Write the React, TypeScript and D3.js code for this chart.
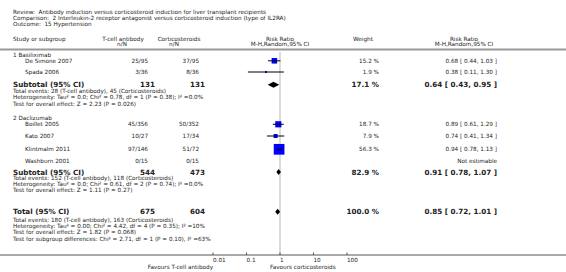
import React from "react";
import * as d3 from "d3";

const titleLines = [
  "Review:  Antibody induction versus corticosteroid induction for liver transplant recipients",
  "Comparison:  2 Interleukin-2 receptor antagonist versus corticosteroid induction (type of IL2RA)",
  "Outcome:  15 Hypertension",
];

const studyNames = ["De Simone 2007", "Spada 2006", "Boillet 2005", "Kato 2007", "Klintmalm 2011", "Washburn 2001"];
const studyGroup = [1, 1, 2, 2, 2, 2];
const tcellEvents = ["25/95", "3/36", "45/356", "10/27", "97/146", "0/15"];
const corticoEvents = ["37/95", "8/36", "50/352", "17/34", "51/72", "0/15"];
const weights = [15.2, 1.9, 18.7, 7.9, 56.3, null];
const rr = [0.68, 0.38, 0.89, 0.74, 0.94, null];
const lo = [0.44, 0.11, 0.61, 0.41, 0.78, null];
const hi = [1.03, 1.3, 1.29, 1.34, 1.13, null];

const groupNames = ["1 Basiliximab", "2 Daclizumab"];
const groupTcellN = ["131", "544"];
const groupCorticoN = ["131", "473"];
const groupWeight = [17.1, 82.9];
const groupRR = [0.64, 0.91];
const groupLo = [0.43, 0.78];
const groupHi = [0.95, 1.07];
const groupText = [
  [
    "Total events: 28 (T-cell antibody), 45 (Corticosteroids)",
    "Heterogeneity: Tau² = 0.0; Chi² = 0.78, df = 1 (P = 0.38); I² =0.0%",
    "Test for overall effect: Z = 2.23 (P = 0.026)",
  ],
  [
    "Total events: 152 (T-cell antibody), 118 (Corticosteroids)",
    "Heterogeneity: Tau² = 0.0; Chi² = 0.61, df = 2 (P = 0.74); I² =0.0%",
    "Test for overall effect: Z = 1.11 (P = 0.27)",
  ],
];

const totalTcellN = "675";
const totalCorticoN = "604";
const totalWeight = 100.0;
const totalRR = 0.85;
const totalLo = 0.72;
const totalHi = 1.01;
const totalText = [
  "Total events: 180 (T-cell antibody), 163 (Corticosteroids)",
  "Heterogeneity: Tau² = 0.00; Chi² = 4.42, df = 4 (P = 0.35); I² =10%",
  "Test for overall effect: Z = 1.82 (P = 0.068)",
  "Test for subgroup differences: Chi² = 2.71, df = 1 (P = 0.10), I² =63%",
];

const tickValues = [0.01, 0.1, 1, 10, 100];
const tickLabels = ["0.01", "0.1", "1", "10", "100"];
const favoursLeft = "Favours T-cell antibody";
const favoursRight = "Favours corticosteroids";

const FONT = "'DejaVu Sans', Verdana, sans-serif";
const SMALL = 5.7;
const BIG = 7.2;
const TXT = "#222";

const f2 = (v: number) => v.toFixed(2);
const ciText = (r: number, l: number, h: number) => `${f2(r)} [ ${f2(l)}, ${f2(h)} ]`;

export default function App() {
  const W = 566;
  const H = 272;
  const x = d3.scaleLog().domain([0.01, 100]).range([213, 347]);
  const sqSize = d3.scaleSqrt().domain([0, 56.3]).range([0, 10.7]);

  const xName1 = 13;
  const xName2 = 25;
  const xT = 148;
  const xC = 199;
  const xTb = 155;
  const xCb = 205;
  const xW = 379;
  const xRR = 497;

  // vertical layout
  const groupLabelY = [54.5, 117.7];
  const studyY = [60.8, 72, 124.3, 136, 149.3, 160.7];
  const subY = [84.8, 172];
  const subTextY = [
    [91, 97.3, 103.5],
    [178.3, 184.3, 190.2],
  ];
  const totY = 211.7;
  const totTextY = [219.6, 226, 232.3, 238.7];
  const axisY = 255;

  const t = (
    key: string,
    xx: number,
    yy: number,
    s: string,
    anchor: "start" | "middle" | "end" = "start",
    bold = false,
    size = SMALL
  ) => (
    <text
      key={key}
      x={xx}
      y={yy}
      dy="0.36em"
      textAnchor={anchor}
      fontFamily={FONT}
      fontSize={size}
      fontWeight={bold ? "bold" : "normal"}
      fill={TXT}
      style={{ whiteSpace: "pre" }}
    >
      {s}
    </text>
  );

  const diamond = (key: string, r: number, l: number, h: number, yy: number) => {
    const hh = 3;
    const p = `M${x(l)},${yy} L${x(r)},${yy - hh} L${x(h)},${yy} L${x(r)},${yy + hh} Z`;
    return <path key={key} d={p} fill="#000" />;
  };

  const els: React.ReactNode[] = [];
  titleLines.forEach((s, i) => els.push(t("title" + i, xName1, [11.6, 17.8, 24][i], s)));

  // header
  els.push(t("h1", xName1, 39, "Study or subgroup"));
  els.push(t("h2", 123, 38.5, "T-cell antibody", "middle"));
  els.push(t("h3", 122, 44, "n/N", "middle"));
  els.push(t("h4", 179, 38.5, "Corticosteroids", "middle"));
  els.push(t("h5", 174, 44, "n/N", "middle"));
  els.push(t("h6", 280, 38.5, "Risk Ratio", "middle"));
  els.push(t("h7", 280, 44, "M-H,Random,95% CI", "middle"));
  els.push(t("h8", 363, 38.5, "Weight", "middle"));
  els.push(t("h9", 464, 38.5, "Risk Ratio", "middle"));
  els.push(t("h10", 464, 44, "M-H,Random,95% CI", "middle"));

  // null line
  els.push(<line key="nullline" x1={x(1)} x2={x(1)} y1={52} y2={axisY} stroke="#dcdcdc" strokeWidth={2} />);
  els.push(<line key="hdrline" x1={0} x2={W} y1={49.5} y2={49.5} stroke="#999" strokeWidth={2} />);

  groupNames.forEach((g, gi) => {
    els.push(t("g" + gi, xName1, groupLabelY[gi], g));
    studyNames.forEach((s, i) => {
      if (studyGroup[i] !== gi + 1) return;
      const yy = studyY[i];
      els.push(t("sn" + i, xName2, yy, s));
      els.push(t("st" + i, xT, yy, tcellEvents[i], "end"));
      els.push(t("sc" + i, xC, yy, corticoEvents[i], "end"));
      const w = weights[i];
      const r = rr[i];
      const l = lo[i];
      const h = hi[i];
      if (w != null && r != null && l != null && h != null) {
        els.push(t("sw" + i, xW, yy, `${w.toFixed(1)} %`, "end"));
        els.push(t("sr" + i, xRR, yy, ciText(r, l, h), "end"));
        const sz = Math.max(sqSize(w), 1.5);
        els.push(
          <rect key={"sq" + i} x={x(r) - sz / 2} y={yy - sz / 2} width={sz} height={sz} fill="#0000ff" />
        );
        els.push(<line key={"ci" + i} x1={x(l)} x2={x(h)} y1={yy} y2={yy} stroke="#000" strokeWidth={1} />);
      } else {
        els.push(t("sr" + i, xRR, yy, "Not estimable", "end"));
      }
    });
    const sy = subY[gi];
    els.push(t("sub" + gi, xName1, sy, "Subtotal (95% CI)", "start", true, BIG));
    els.push(t("subt" + gi, xTb, sy, groupTcellN[gi], "end", true, BIG));
    els.push(t("subc" + gi, xCb, sy, groupCorticoN[gi], "end", true, BIG));
    els.push(t("subw" + gi, xW, sy, `${groupWeight[gi].toFixed(1)} %`, "end", true, BIG));
    els.push(t("subr" + gi, xRR, sy, ciText(groupRR[gi], groupLo[gi], groupHi[gi]), "end", true, BIG));
    els.push(diamond("subd" + gi, groupRR[gi], groupLo[gi], groupHi[gi], sy));
    groupText[gi].forEach((s, j) => els.push(t(`gt${gi}_${j}`, xName1, subTextY[gi][j], s)));
  });

  els.push(t("tot", xName1, totY, "Total (95% CI)", "start", true, BIG));
  els.push(t("tott", xTb, totY, totalTcellN, "end", true, BIG));
  els.push(t("totc", xCb, totY, totalCorticoN, "end", true, BIG));
  els.push(t("totw", xW, totY, `${totalWeight.toFixed(1)} %`, "end", true, BIG));
  els.push(t("totr", xRR, totY, ciText(totalRR, totalLo, totalHi), "end", true, BIG));
  els.push(diamond("totd", totalRR, totalLo, totalHi, totY));
  totalText.forEach((s, j) => els.push(t("tt" + j, xName1, totTextY[j], s)));

  // axis
  els.push(<line key="axis" x1={0} x2={W} y1={axisY} y2={axisY} stroke="#555" strokeWidth={1} />);
  tickValues.forEach((v, i) => {
    els.push(
      <line key={"tk" + i} x1={x(v)} x2={x(v)} y1={axisY - 2.5} y2={axisY} stroke="#555" strokeWidth={1} />
    );
    els.push(t("tl" + i, x(v), 259.5, tickLabels[i], "start"));
  });
  els.push(t("favL", 213, 266.7, favoursLeft, "end"));
  els.push(t("favR", 270, 266.7, favoursRight, "start"));

  return (
    <svg
      width={W}
      height={H}
      style={{ position: "absolute", left: 0, top: 0, background: "#fff" }}
    >
      {els}
    </svg>
  );
}
